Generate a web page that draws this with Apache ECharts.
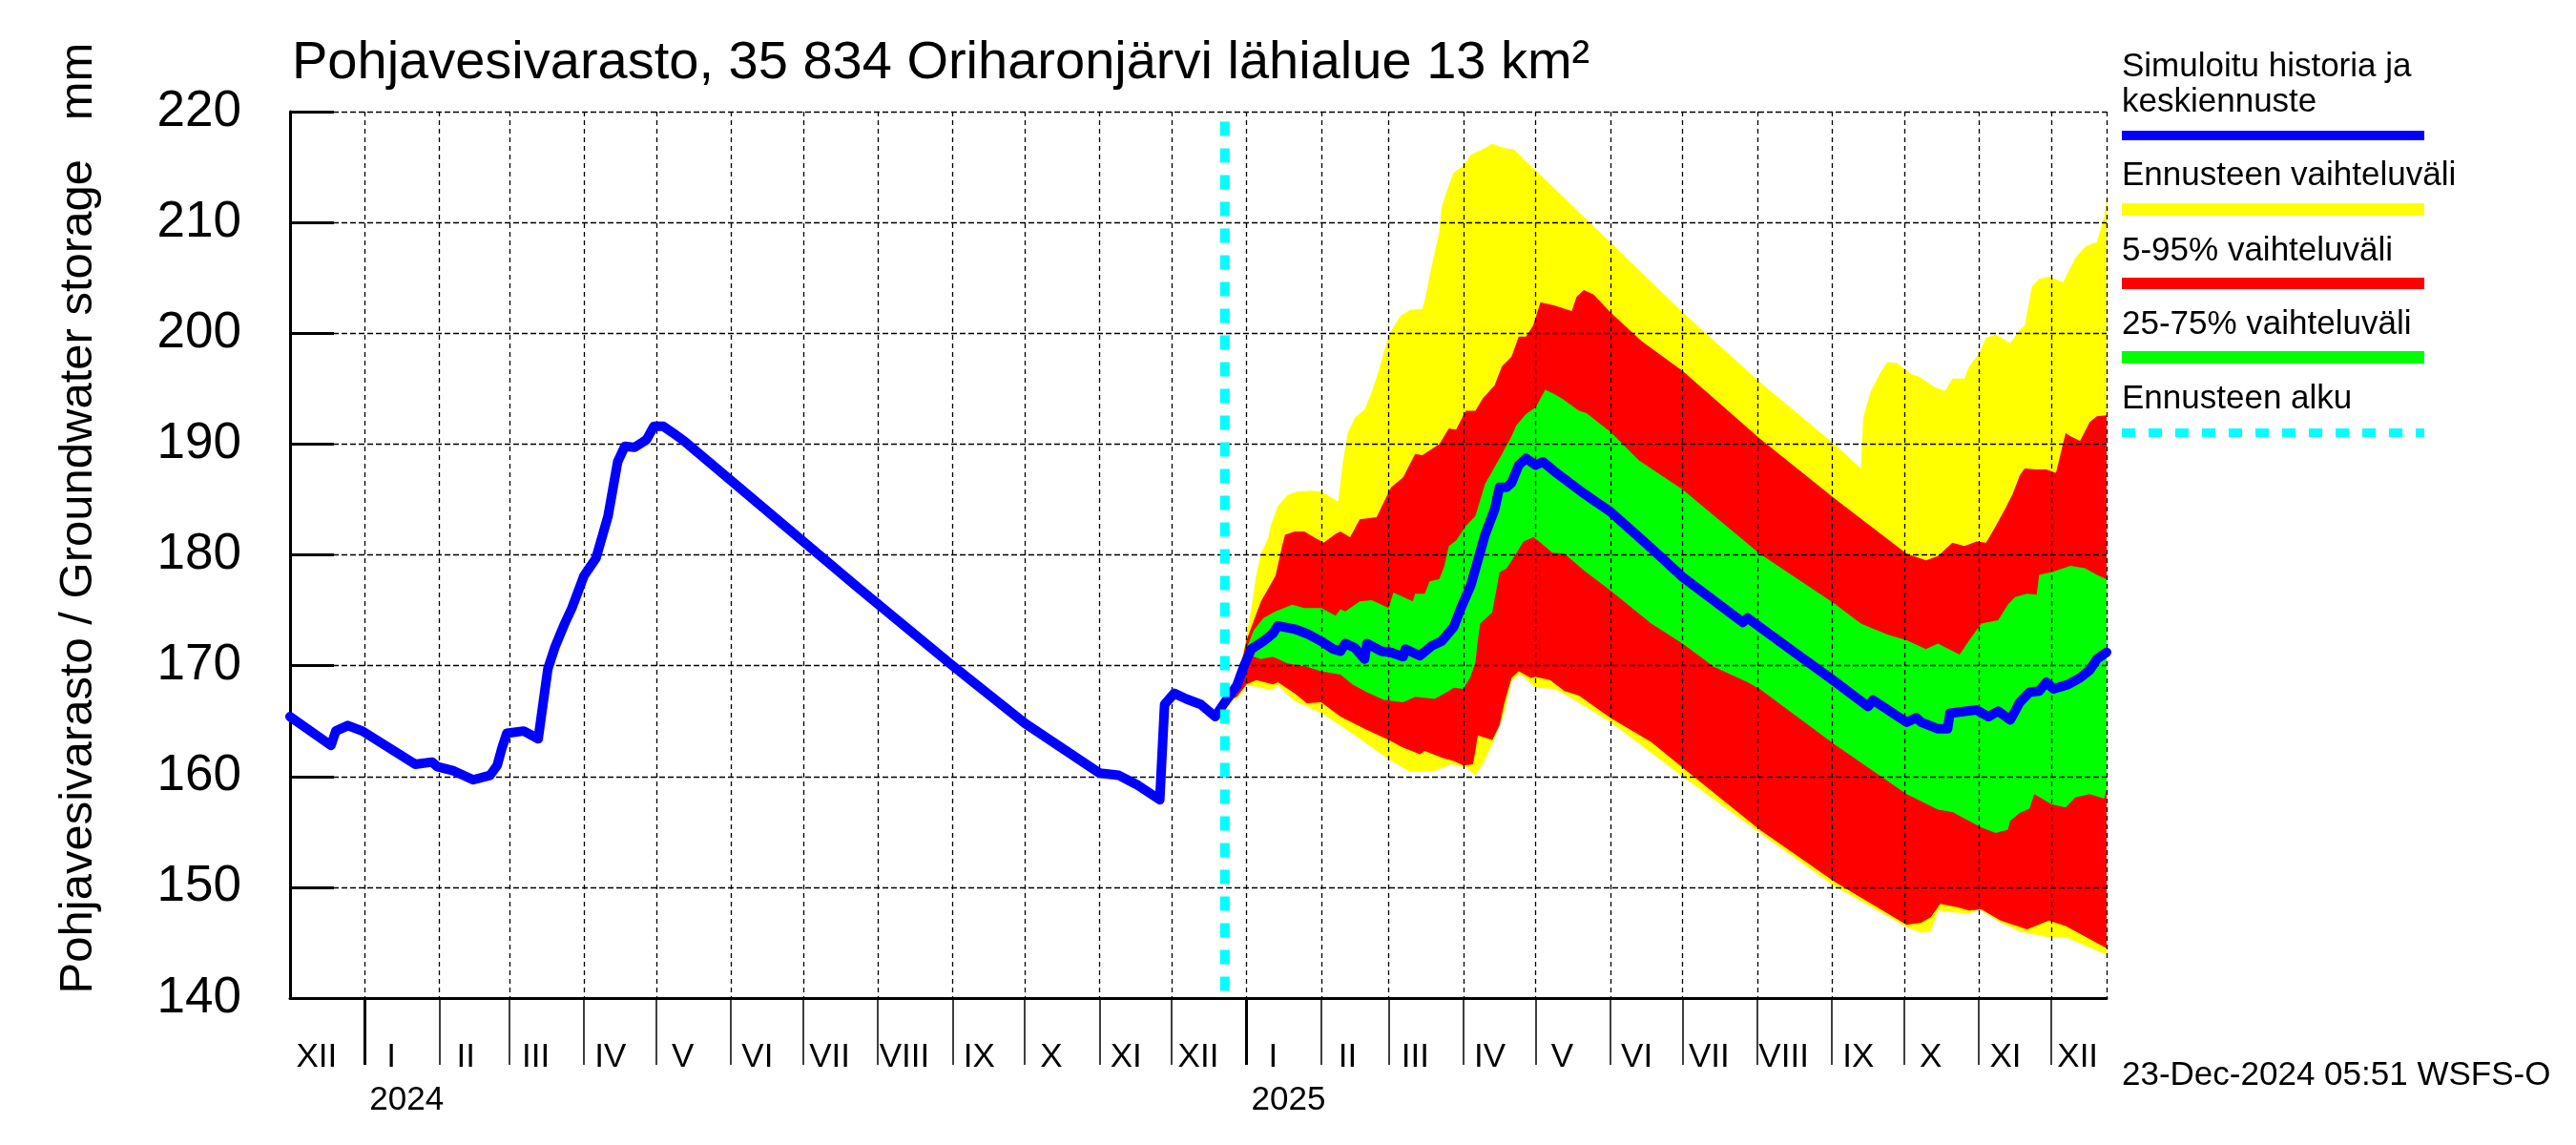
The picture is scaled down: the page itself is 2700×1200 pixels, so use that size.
<!DOCTYPE html>
<html>
<head>
<meta charset="utf-8">
<script src="https://cdn.jsdelivr.net/npm/echarts@6/dist/echarts.min.js"></script>
<style>html,body{margin:0;padding:0;background:#fff}#chart{width:2700px;height:1200px}</style>
</head>
<body>
<div id="chart"></div>
<script>
// ---------------- data ----------------
const START_DATE = '2023-12-01';
const END_DATE = '2025-12-24';
const FORECAST_START = '2024-12-23';
const MONTH_LABELS = ['I','II','III','IV','V','VI','VII','VIII','IX','X','XI','XII'];
const Y_MIN = 140, Y_MAX = 220, Y_STEP = 10;

const TITLE = 'Pohjavesivarasto, 35 834 Oriharonjärvi lähialue 13 km²';
const Y_NAME = 'Pohjavesivarasto / Groundwater storage   mm';
const LEGEND_NAMES = ['Simuloitu historia ja', 'keskiennuste', 'Ennusteen vaihteluväli', '5-95% vaihteluväli', '25-75% vaihteluväli', 'Ennusteen alku'];
const STAMP = '23-Dec-2024 05:51 WSFS-O';

// Simulated history + median forecast
const simulated = [
 ['2023-12-01',165.4],['2023-12-18',162.8],['2023-12-20',164.1],['2023-12-25',164.6],['2023-12-31',164.1],
 ['2024-01-22',161.1],['2024-01-29',161.3],['2024-01-31',160.9],['2024-02-07',160.5],['2024-02-15',159.7],
 ['2024-02-22',160.1],['2024-02-25',161.0],['2024-02-27',162.6],['2024-02-29',163.9],['2024-03-07',164.1],
 ['2024-03-13',163.4],['2024-03-17',169.7],['2024-03-20',171.7],['2024-03-24',173.8],['2024-03-27',175.2],
 ['2024-04-01',178.1],['2024-04-06',179.7],['2024-04-11',183.5],['2024-04-15',188.4],['2024-04-18',189.8],
 ['2024-04-22',189.7],['2024-04-27',190.4],['2024-04-30',191.6],['2024-05-04',191.6],['2024-05-08',191.0],
 ['2024-05-13',190.2],['2024-07-24',177.0],['2024-09-01',170.0],['2024-10-01',164.8],['2024-11-01',160.3],
 ['2024-11-09',160.1],['2024-11-17',159.2],['2024-11-26',157.9],['2024-11-28',166.5],['2024-12-02',167.5],
 ['2024-12-07',167.0],['2024-12-13',166.5],['2024-12-19',165.4],['2024-12-23',166.7],
 ['2024-12-28',168.2],['2024-12-31',170.0],['2025-01-03',171.5],['2025-01-08',172.2],['2025-01-12',172.9],
 ['2025-01-14',173.6],['2025-01-21',173.3],['2025-01-26',172.9],['2025-02-01',172.2],['2025-02-06',171.5],
 ['2025-02-09',171.3],['2025-02-11',172.0],['2025-02-15',171.6],['2025-02-19',170.6],['2025-02-20',172.0],
 ['2025-02-26',171.3],['2025-03-02',171.2],['2025-03-07',170.8],['2025-03-08',171.5],['2025-03-14',170.9],
 ['2025-03-19',171.8],['2025-03-23',172.2],['2025-03-28',173.5],['2025-03-31',175.2],['2025-04-04',177.2],
 ['2025-04-07',179.5],['2025-04-10',181.8],['2025-04-14',184.1],['2025-04-16',186.1],['2025-04-19',186.1],
 ['2025-04-21',186.5],['2025-04-24',188.1],['2025-04-27',188.7],['2025-05-01',188.1],['2025-05-04',188.4],
 ['2025-05-09',187.5],['2025-05-20',185.7],['2025-05-26',184.8],['2025-06-01',183.9],['2025-06-18',180.6],
 ['2025-07-01',178.0],['2025-07-26',173.9],['2025-07-28',174.3],['2025-08-02',173.5],['2025-08-12',171.9],
 ['2025-09-02',168.6],['2025-09-16',166.3],['2025-09-18',166.9],['2025-10-02',164.9],['2025-10-06',165.3],
 ['2025-10-08',164.9],['2025-10-15',164.3],['2025-10-19',164.3],['2025-10-20',165.7],['2025-10-27',165.9],
 ['2025-10-31',166.0],['2025-11-05',165.4],['2025-11-09',165.9],['2025-11-14',165.1],['2025-11-18',166.7],
 ['2025-11-22',167.6],['2025-11-26',167.7],['2025-11-29',168.5],['2025-12-02',167.9],['2025-12-08',168.3],
 ['2025-12-13',168.9],['2025-12-17',169.6],['2025-12-20',170.6],['2025-12-24',171.2]
];

// Forecast range: maximum
const forecastMax = [
 ['2024-12-23',166.7],['2024-12-28',168.8],['2024-12-31',171.5],['2025-01-03',175.2],['2025-01-05',178.1],
 ['2025-01-07',180.1],['2025-01-10',181.5],['2025-01-11',182.6],['2025-01-14',184.4],['2025-01-18',185.4],
 ['2025-01-22',185.7],['2025-01-28',185.8],['2025-02-01',185.7],['2025-02-05',185.2],['2025-02-08',184.8],
 ['2025-02-09',186.5],['2025-02-10',188.4],['2025-02-12',191.0],['2025-02-15',192.4],['2025-02-19',193.1],
 ['2025-02-22',194.7],['2025-02-25',196.7],['2025-02-28',199.0],['2025-03-02',200.2],['2025-03-06',201.6],
 ['2025-03-10',202.1],['2025-03-15',202.2],['2025-03-16',203.0],['2025-03-19',206.2],['2025-03-22',209.1],
 ['2025-03-23',211.4],['2025-03-26',213.4],['2025-03-28',214.5],['2025-04-01',215.1],['2025-04-04',216.1],
 ['2025-04-09',216.6],['2025-04-13',217.1],['2025-04-18',216.7],['2025-04-22',216.6],['2025-04-27',215.5],
 ['2025-05-01',214.7],['2025-05-23',210.1],['2025-07-01',201.9],['2025-08-02',195.6],['2025-09-02',190.0],
 ['2025-09-13',187.8],['2025-09-14',192.4],['2025-09-17',194.7],['2025-09-21',196.4],['2025-09-24',197.4],
 ['2025-09-28',197.3],['2025-10-04',196.3],['2025-10-07',196.1],['2025-10-14',195.1],['2025-10-18',194.8],
 ['2025-10-21',195.9],['2025-10-26',195.9],['2025-10-28',197.0],['2025-11-01',198.2],['2025-11-04',199.6],
 ['2025-11-08',199.9],['2025-11-14',199.1],['2025-11-18',200.3],['2025-11-20',200.7],['2025-11-23',204.2],
 ['2025-11-26',204.9],['2025-11-30',205.1],['2025-12-06',204.6],['2025-12-08',205.5],['2025-12-11',206.8],
 ['2025-12-15',207.8],['2025-12-18',208.1],['2025-12-20',208.2],['2025-12-23',210.5],['2025-12-24',212.2]
];

// Forecast range: minimum
const forecastMin = [
 ['2024-12-23',166.7],['2024-12-28',167.0],['2024-12-30',167.5],['2025-01-01',168.2],['2025-01-05',168.1],
 ['2025-01-11',167.8],['2025-01-14',168.2],['2025-01-21',166.8],['2025-01-26',166.3],['2025-02-02',165.6],
 ['2025-02-15',163.7],['2025-03-02',161.4],['2025-03-10',160.4],['2025-03-20',160.5],['2025-03-27',161.1],
 ['2025-04-02',160.8],['2025-04-06',160.1],['2025-04-09',161.1],['2025-04-14',163.4],['2025-04-18',165.7],
 ['2025-04-21',168.6],['2025-04-24',169.2],['2025-04-26',169.0],['2025-05-01',168.0],['2025-05-09',167.9],
 ['2025-05-17',166.9],['2025-06-01',164.9],['2025-07-01',160.0],['2025-08-02',154.9],['2025-09-02',150.1],
 ['2025-10-02',146.4],['2025-10-08',145.9],['2025-10-12',146.0],['2025-10-15',147.9],['2025-10-28',147.6],
 ['2025-11-01',148.0],['2025-11-10',146.8],['2025-11-18',146.0],['2025-11-30',145.5],['2025-12-07',145.5],
 ['2025-12-24',143.9]
];

// 95 % quantile
const forecastP95 = [
 ['2024-12-23',166.7],['2024-12-28',168.3],['2025-01-01',172.3],['2025-01-07',175.8],['2025-01-13',178.1],
 ['2025-01-16',181.0],['2025-01-17',181.8],['2025-01-21',182.1],['2025-01-25',182.1],['2025-01-29',181.6],
 ['2025-02-02',181.1],['2025-02-07',181.9],['2025-02-09',182.1],['2025-02-13',181.6],['2025-02-17',183.2],
 ['2025-02-24',183.4],['2025-02-28',185.2],['2025-03-02',186.1],['2025-03-07',187.0],['2025-03-12',189.1],
 ['2025-03-15',189.0],['2025-03-22',190.0],['2025-03-26',191.4],['2025-03-29',191.3],['2025-04-02',193.0],
 ['2025-04-06',193.0],['2025-04-09',194.1],['2025-04-14',195.3],['2025-04-17',197.0],['2025-04-21',197.9],
 ['2025-04-24',199.7],['2025-04-27',199.7],['2025-04-30',200.7],['2025-05-03',202.8],['2025-05-09',202.5],
 ['2025-05-16',202.0],['2025-05-18',203.3],['2025-05-21',203.9],['2025-05-25',203.5],['2025-06-01',201.9],
 ['2025-06-14',199.3],['2025-07-01',196.6],['2025-08-02',190.5],['2025-09-02',185.1],['2025-10-02',180.1],
 ['2025-10-10',179.5],['2025-10-15',179.9],['2025-10-21',181.1],['2025-10-26',180.8],['2025-10-31',181.2],
 ['2025-11-04',181.1],['2025-11-08',182.6],['2025-11-12',184.2],['2025-11-15',185.5],['2025-11-18',187.2],
 ['2025-11-20',187.8],['2025-11-25',187.7],['2025-11-29',187.7],['2025-12-03',187.4],['2025-12-07',191.0],
 ['2025-12-09',190.7],['2025-12-13',190.3],['2025-12-17',192.0],['2025-12-20',192.5],['2025-12-24',192.6]
];

// 5 % quantile
const forecastP5 = [
 ['2024-12-23',166.7],['2024-12-28',167.2],['2025-01-01',168.3],['2025-01-05',168.7],['2025-01-12',168.3],
 ['2025-01-14',168.5],['2025-01-21',167.5],['2025-01-26',166.6],['2025-02-01',166.7],['2025-02-09',165.4],
 ['2025-02-19',164.3],['2025-03-01',163.3],['2025-03-07',162.6],['2025-03-14',162.0],['2025-03-16',162.3],
 ['2025-03-23',161.7],['2025-03-28',161.4],['2025-04-01',161.0],['2025-04-05',161.1],['2025-04-06',162.3],
 ['2025-04-07',163.7],['2025-04-13',163.3],['2025-04-16',164.6],['2025-04-18',166.6],['2025-04-21',168.9],
 ['2025-04-24',169.5],['2025-04-29',168.9],['2025-05-01',169.0],['2025-05-07',168.7],['2025-05-13',167.7],
 ['2025-05-19',167.3],['2025-06-01',165.3],['2025-06-18',163.1],['2025-07-01',160.8],['2025-08-02',155.2],
 ['2025-09-02',150.5],['2025-10-02',146.6],['2025-10-08',146.8],['2025-10-12',147.3],['2025-10-16',148.5],
 ['2025-10-23',148.2],['2025-10-28',147.9],['2025-11-02',148.0],['2025-11-10',147.0],['2025-11-21',146.2],
 ['2025-11-30',147.0],['2025-12-07',146.5],['2025-12-24',144.5]
];

// 75 % quantile
const forecastP75 = [
 ['2024-12-23',166.7],['2024-12-28',167.9],['2024-12-31',171.0],['2025-01-04',173.2],['2025-01-08',174.3],
 ['2025-01-13',174.9],['2025-01-20',175.5],['2025-01-25',175.2],['2025-02-01',175.2],['2025-02-07',174.5],
 ['2025-02-09',175.1],['2025-02-11',174.9],['2025-02-17',175.8],['2025-02-22',175.9],['2025-03-01',175.2],
 ['2025-03-03',176.6],['2025-03-11',175.8],['2025-03-12',176.5],['2025-03-16',176.5],['2025-03-18',177.6],
 ['2025-03-22',177.8],['2025-03-24',178.9],['2025-03-26',180.8],['2025-03-29',181.3],['2025-04-02',182.6],
 ['2025-04-06',183.5],['2025-04-10',186.4],['2025-04-16',188.7],['2025-04-21',190.7],['2025-04-23',191.7],
 ['2025-04-27',192.7],['2025-05-01',193.3],['2025-05-05',194.9],['2025-05-08',194.6],['2025-05-12',194.1],
 ['2025-05-19',193.0],['2025-05-22',192.8],['2025-06-01',191.1],['2025-06-13',188.5],['2025-07-01',185.9],
 ['2025-08-02',180.1],['2025-09-02',175.6],['2025-09-13',173.8],['2025-09-24',172.8],['2025-10-02',172.3],
 ['2025-10-10',171.5],['2025-10-15',172.0],['2025-10-24',171.0],['2025-10-28',172.3],['2025-11-02',173.8],
 ['2025-11-09',174.1],['2025-11-13',175.5],['2025-11-16',176.2],['2025-11-21',176.5],['2025-11-25',176.4],
 ['2025-11-26',178.2],['2025-12-02',178.5],['2025-12-09',179.0],['2025-12-15',178.8],['2025-12-20',178.2],
 ['2025-12-24',177.8]
];

// 25 % quantile
const forecastP25 = [
 ['2024-12-23',166.7],['2024-12-28',167.4],['2024-12-31',169.5],['2025-01-03',170.9],['2025-01-07',170.6],
 ['2025-01-12',170.8],['2025-01-18',170.2],['2025-01-26',169.9],['2025-02-01',169.5],['2025-02-09',169.2],
 ['2025-02-14',168.3],['2025-02-20',167.6],['2025-02-27',166.9],['2025-03-07',166.7],['2025-03-12',167.2],
 ['2025-03-20',167.0],['2025-03-26',167.7],['2025-03-28',168.0],['2025-04-01',167.9],['2025-04-04',169.0],
 ['2025-04-06',170.3],['2025-04-07',172.3],['2025-04-08',173.8],['2025-04-13',174.8],['2025-04-16',178.4],
 ['2025-04-19',178.8],['2025-04-22',179.8],['2025-04-26',181.2],['2025-04-30',181.6],['2025-05-02',181.3],
 ['2025-05-08',180.2],['2025-05-13',180.1],['2025-05-21',178.6],['2025-06-01',176.8],['2025-06-18',173.8],
 ['2025-07-01',172.0],['2025-07-14',169.9],['2025-07-28',168.5],['2025-08-02',167.9],['2025-09-02',162.9],
 ['2025-10-02',158.4],['2025-10-15',157.0],['2025-10-21',156.8],['2025-11-02',155.4],['2025-11-08',154.9],
 ['2025-11-13',155.2],['2025-11-14',156.0],['2025-11-18',156.7],['2025-11-22',157.1],['2025-11-24',158.4],
 ['2025-12-01',157.5],['2025-12-07',157.2],['2025-12-11',158.1],['2025-12-17',158.4],['2025-12-23',158.0],
 ['2025-12-24',158.8]
];

// ---------------- helpers ----------------
const DAY = 86400000;
const categories = [];
for (let t = Date.parse(START_DATE + 'T00:00:00Z'); t <= Date.parse(END_DATE + 'T00:00:00Z'); t += DAY) {
  categories.push(new Date(t).toISOString().slice(0, 10));
}
const catIndex = {};
categories.forEach((d, i) => { catIndex[d] = i; });
const LAST = categories.length - 1;
const toXY = arr => arr.map(([d, v]) => [catIndex[d], v]);

const FONT = '"Liberation Sans", Arial, Helvetica, sans-serif';
const BLACK = '#000000';
const C_BLUE = '#0000ff', C_YELLOW = '#ffff00', C_RED = '#ff0000', C_GREEN = '#00ff00', C_CYAN = '#00ffff';

function band(name, upper, lower, color) {
  return {
    type: 'custom', name, z: 1, silent: true, clip: true,
    data: [[0, Y_MIN]],
    renderItem: (params, api) => {
      const pts = upper.map(([d, v]) => api.coord([catIndex[d], v]));
      for (let i = lower.length - 1; i >= 0; i--) pts.push(api.coord([catIndex[lower[i][0]], lower[i][1]]));
      return { type: 'polygon', shape: { points: pts }, style: { fill: color } };
    }
  };
}

const isMonthStart = v => v.slice(8) === '01';

// ---------------- chart ----------------
const chart = echarts.init(document.getElementById('chart'), null, { renderer: 'canvas' });
const LX = 2224;
chart.setOption({
  animation: false,
  backgroundColor: '#ffffff',
  title: {
    text: TITLE, left: 306, top: 39, padding: 0,
    textStyle: { fontSize: 56, fontWeight: 'normal', color: BLACK, fontFamily: FONT, lineHeight: 56 }
  },
  grid: { left: 304, right: 492, top: 117, bottom: 154, containLabel: false, outerBoundsMode: 'none' },
  xAxis: [
    {
      type: 'category', data: categories, boundaryGap: false, z: 3,
      axisLine: { show: true, onZero: false, lineStyle: { color: BLACK, width: 3 } },
      axisTick: { show: true, length: 70, interval: (i, v) => i > 0 && isMonthStart(v), lineStyle: { color: BLACK, width: 1.5 } },
      axisLabel: {
        show: true, interval: (i, v) => v.slice(8) === '12', margin: 45,
        formatter: v => MONTH_LABELS[parseInt(v.slice(5, 7), 10) - 1],
        fontSize: 35, lineHeight: 35, color: BLACK, fontFamily: FONT
      },
      splitLine: { show: true, interval: (i, v) => isMonthStart(v) || i === LAST, lineStyle: { color: BLACK, width: 1.3, type: [5, 4] } }
    },
    {
      type: 'category', data: categories, boundaryGap: false, position: 'bottom', offset: 0, z: 3,
      axisLine: { show: false },
      axisTick: { show: true, length: 70, interval: (i, v) => v.slice(5) === '01-01', lineStyle: { color: BLACK, width: 3 } },
      axisLabel: {
        show: true, interval: (i, v) => v.slice(5) === '01-01', margin: 90, align: 'left', padding: [0, 0, 0, 5],
        formatter: v => v.slice(0, 4), fontSize: 35, lineHeight: 35, color: BLACK, fontFamily: FONT
      },
      splitLine: { show: false }
    }
  ],
  yAxis: {
    type: 'value', min: Y_MIN, max: Y_MAX, interval: Y_STEP, z: 3,
    axisLine: { show: true, lineStyle: { color: BLACK, width: 3 } },
    axisTick: { show: true, inside: true, length: 46, lineStyle: { color: BLACK, width: 3 } },
    axisLabel: { fontSize: 53, color: BLACK, fontFamily: FONT, margin: 51 },
    splitLine: { show: true, lineStyle: { color: BLACK, width: 1.3, type: [6, 3] } }
  },
  series: [
    band(LEGEND_NAMES[2], forecastMax, forecastMin, C_YELLOW),
    band(LEGEND_NAMES[3], forecastP95, forecastP5, C_RED),
    band(LEGEND_NAMES[4], forecastP75, forecastP25, C_GREEN),
    {
      type: 'line', name: LEGEND_NAMES[0] + ' ' + LEGEND_NAMES[1], data: toXY(simulated), z: 5,
      showSymbol: false, symbol: 'none', clip: true,
      lineStyle: { color: C_BLUE, width: 10, join: 'round', cap: 'round' }
    },
    {
      type: 'line', name: LEGEND_NAMES[5], z: 6, showSymbol: false, symbol: 'none',
      data: [[catIndex[FORECAST_START], 219.1], [catIndex[FORECAST_START], Y_MIN]],
      lineStyle: { color: C_CYAN, width: 10, type: [15, 13], cap: 'butt' }
    }
  ],
  graphic: [
    { type: 'text', x: 82, y: 543, rotation: Math.PI / 2,
      style: { text: Y_NAME, fontSize: 49, fontFamily: FONT, fill: BLACK, align: 'center', verticalAlign: 'middle' } },
    { type: 'text', x: LX, y: 70, style: { text: LEGEND_NAMES[0], fontSize: 35, fontFamily: FONT, fill: BLACK, align: 'left', verticalAlign: 'middle' } },
    { type: 'text', x: LX, y: 107, style: { text: LEGEND_NAMES[1], fontSize: 35, fontFamily: FONT, fill: BLACK, align: 'left', verticalAlign: 'middle' } },
    { type: 'rect', shape: { x: LX, y: 137, width: 317, height: 10 }, style: { fill: C_BLUE } },
    { type: 'text', x: LX, y: 184, style: { text: LEGEND_NAMES[2], fontSize: 35, fontFamily: FONT, fill: BLACK, align: 'left', verticalAlign: 'middle' } },
    { type: 'rect', shape: { x: LX, y: 213, width: 317, height: 13 }, style: { fill: C_YELLOW } },
    { type: 'text', x: LX, y: 263, style: { text: LEGEND_NAMES[3], fontSize: 35, fontFamily: FONT, fill: BLACK, align: 'left', verticalAlign: 'middle' } },
    { type: 'rect', shape: { x: LX, y: 291, width: 317, height: 12 }, style: { fill: C_RED } },
    { type: 'text', x: LX, y: 340, style: { text: LEGEND_NAMES[4], fontSize: 35, fontFamily: FONT, fill: BLACK, align: 'left', verticalAlign: 'middle' } },
    { type: 'rect', shape: { x: LX, y: 368, width: 317, height: 13 }, style: { fill: C_GREEN } },
    { type: 'text', x: LX, y: 418, style: { text: LEGEND_NAMES[5], fontSize: 35, fontFamily: FONT, fill: BLACK, align: 'left', verticalAlign: 'middle' } },
    { type: 'line', shape: { x1: LX, y1: 453.5, x2: LX + 317, y2: 453.5 }, style: { stroke: C_CYAN, lineWidth: 9, lineDash: [14, 14] } },
    { type: 'text', x: LX, y: 1127, style: { text: STAMP, fontSize: 35, fontFamily: FONT, fill: BLACK, align: 'left', verticalAlign: 'middle' } }
  ]
});
</script>
</body>
</html>
